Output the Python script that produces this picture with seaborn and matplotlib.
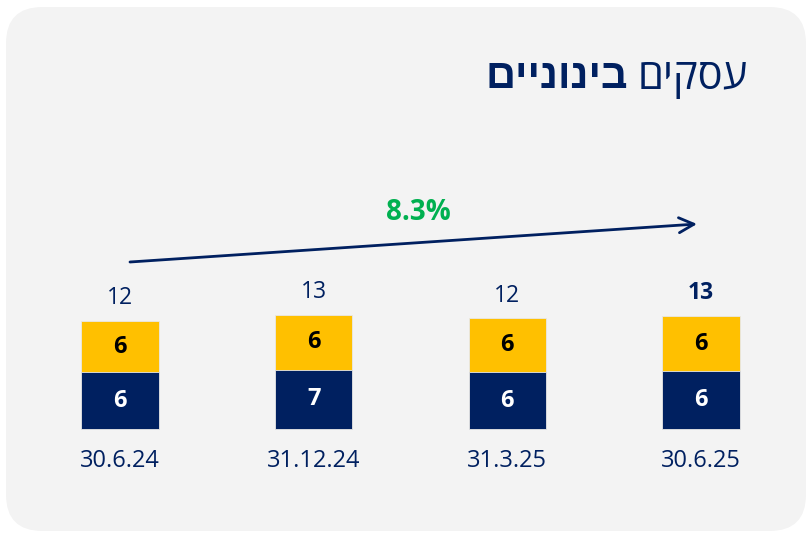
import matplotlib
matplotlib.use('Agg')
import matplotlib.pyplot as plt
import seaborn as sns
from matplotlib.patches import FancyBboxPatch

sns.set_theme(style='white')
plt.rcParams['font.family'] = ['Open Sans', 'Liberation Sans', 'DejaVu Sans']

# data
dates = ['30.6.24', '31.12.24', '31.3.25', '30.6.25']
bottom_vals = [6.3, 6.6, 6.3, 6.4]
top_vals = [5.7, 6.1, 6.0, 6.2]
totals = [b + t for b, t in zip(bottom_vals, top_vals)]
growth_label = '8.3%'
title_regular = 'עסקים'
title_bold = 'בינוניים'

NAVY = '#002060'
YELLOW = '#ffc000'
GREEN = '#00b050'
PANEL = '#f3f3f3'

fig = plt.figure(figsize=(8.09, 5.33), dpi=100)
fig.patch.set_facecolor('white')

# rounded panel
panel = FancyBboxPatch((6 / 809, 2 / 533), 800 / 809, 524 / 533,
                       boxstyle='round,pad=0,rounding_size=0.045',
                       transform=fig.transFigure, facecolor=PANEL,
                       edgecolor='none', mutation_aspect=809 / 533, zorder=-10)
fig.patches.append(panel)

ax = fig.add_axes([0, 0, 1, 1])
ax.patch.set_alpha(0)

sns.barplot(x=dates, y=totals, color=YELLOW, width=0.4, saturation=1,
            edgecolor='#e8e8e8', linewidth=0.6, ax=ax)
sns.barplot(x=dates, y=bottom_vals, color=NAVY, width=0.4, saturation=1,
            edgecolor='#e8e8e8', linewidth=0.6, ax=ax)

# pixel mapping: x=0 -> 120px, spacing 193.7px; y=0 -> 429px from top, 9px/unit
ax.set_xlim(-120 / 193.7, 3 + (809 - 701) / 193.7)
ax.set_ylim(-(533 - 429) / 9, 429 / 9)
ax.axis('off')

for i, (b, t, tot) in enumerate(zip(bottom_vals, top_vals, totals)):
    ax.text(i, b / 2, f'{b:.0f}', ha='center', va='center', color='white',
            fontsize=17, fontweight='bold')
    ax.text(i, b + t / 2, f'{t:.0f}', ha='center', va='center', color='black',
            fontsize=17, fontweight='bold')
    ax.text(i, tot + 1.2, f'{tot:.0f}', ha='center', va='bottom', color=NAVY,
            fontsize=16.5, fontweight='bold' if i == len(dates) - 1 else 'normal')
    ax.text(i, -3.6, dates[i], ha='center', va='center', color=NAVY, fontsize=17)

# growth arrow
ax.annotate('', xy=(3 - 4 / 193.7, (429 - 224) / 9), xytext=(10 / 193.7, (429 - 262) / 9),
            arrowprops=dict(arrowstyle='->,head_length=0.9,head_width=0.45',
                            color=NAVY, lw=2, shrinkA=0, shrinkB=0))
ax.text(1.54, (429 - 212) / 9, growth_label, ha='center', va='center',
        color=GREEN, fontsize=20, fontweight='bold')

# title (RTL: reverse strings for display)
t1 = fig.text(748 / 809, 1 - 78 / 533, title_regular[::-1], ha='right', va='center',
              color=NAVY, fontsize=30)
fig.canvas.draw()
bb = t1.get_window_extent()
fig.text((bb.x0 - 10) / 809, 1 - 78 / 533, title_bold[::-1], ha='right', va='center',
         color=NAVY, fontsize=30, fontweight='bold')

fig.savefig('out.png', dpi=100)
